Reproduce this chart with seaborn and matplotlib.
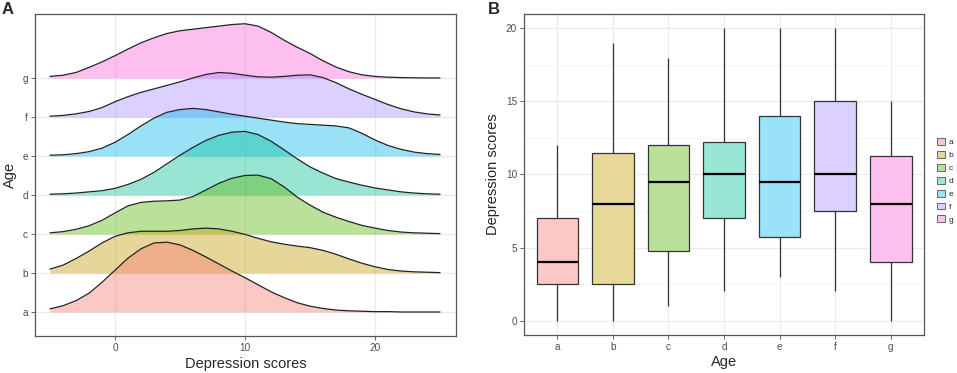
import numpy as np
import pandas as pd
import matplotlib
matplotlib.use("Agg")
import matplotlib.pyplot as plt
from matplotlib.patches import Patch
import seaborn as sns

# ---- data ----
ages = ["a", "b", "c", "d", "e", "f", "g"]
hue_colors = ["#F8766D", "#C49A00", "#53B400", "#00C094", "#00B6EB", "#A58AFF", "#FB61D7"]

# panel A: ridge heights (in row units) at each depression score
score_grid = list(range(-5, 26))
ridge_a = [.08, .16, .29, .48, .76, 1.07, 1.38, 1.62, 1.77, 1.79, 1.72, 1.58, 1.41, 1.23, 1.05, .88,
           .70, .52, .37, .24, .15, .09, .05, .03, .02, .01, .01, 0, 0, 0, 0]
ridge_b = [.10, .20, .37, .56, .77, .94, 1.03, 1.07, 1.07, 1.07, 1.09, 1.13, 1.15, 1.13, 1.07, .99,
           .89, .80, .74, .69, .65, .58, .48, .36, .25, .16, .09, .05, .03, .02, .01]
ridge_c = [.03, .06, .12, .21, .35, .54, .72, .81, .84, .85, .87, .96, 1.13, 1.30, 1.43, 1.50,
           1.51, 1.42, 1.21, .95, .74, .56, .43, .32, .22, .15, .09, .05, .03, .02, .01]
ridge_d = [.02, .03, .05, .08, .11, .17, .27, .40, .58, .80, 1.02, 1.22, 1.40, 1.53, 1.61, 1.63,
           1.55, 1.38, 1.16, .93, .72, .56, .42, .33, .25, .18, .13, .08, .05, .03, .02]
ridge_e = [.02, .03, .06, .11, .20, .35, .55, .77, .97, 1.12, 1.19, 1.22, 1.19, 1.13, 1.07, 1.02,
           .97, .92, .87, .83, .81, .79, .77, .72, .58, .41, .27, .17, .10, .06, .04]
ridge_f = [.02, .04, .08, .14, .24, .39, .52, .63, .72, .81, .90, 1.00, 1.09, 1.14, 1.12, 1.07,
           1.03, 1.02, 1.04, 1.07, 1.08, 1.01, .88, .72, .58, .45, .32, .21, .13, .08, .05]
ridge_g = [.04, .07, .14, .27, .41, .57, .74, .90, 1.03, 1.14, 1.21, 1.25, 1.29, 1.33, 1.37, 1.39,
           1.33, 1.17, .97, .79, .63, .44, .28, .16, .08, .04, .02, .01, .005, 0, 0]
ridges = [ridge_a, ridge_b, ridge_c, ridge_d, ridge_e, ridge_f, ridge_g]

# panel B: box summary per age group
whisker_low = [0, 0, 1, 2, 3, 2, 0]
box_q1 = [2.5, 2.5, 4.75, 7, 5.75, 7.5, 4]
box_median = [4, 8, 9.5, 10, 9.5, 10, 8]
box_q3 = [7, 11.5, 12, 12.25, 14, 15, 11.25]
whisker_high = [12, 19, 18, 20, 20, 20, 15]


def blend(hex_color, alpha=0.4):
    rgb = np.array(matplotlib.colors.to_rgb(hex_color))
    return tuple(alpha * rgb + (1 - alpha) * np.ones(3))


fills = [blend(c) for c in hue_colors]

sns.set_theme(style="white")
plt.rcParams["font.family"] = ["Liberation Sans", "DejaVu Sans"]

fig = plt.figure(figsize=(9.57, 3.73), dpi=100)
ax_a = fig.add_axes([35 / 957, 37 / 373, 421 / 957, 322 / 373])
ax_b = fig.add_axes([524 / 957, 38 / 373, 400 / 957, 321 / 373])

grid_col = "#EBEBEB"
frame_col = "#555555"
tick_col = "#4D4D4D"

# ---- panel A: ridgelines ----
for x in [0, 10, 20]:
    ax_a.axvline(x, color=grid_col, lw=1.0, zorder=0)
for i in range(len(ages)):
    ax_a.axhline(i, color=grid_col, lw=1.0, zorder=0)

for i in range(len(ages) - 1, -1, -1):
    ridge = pd.DataFrame({"score": score_grid, "height": np.array(ridges[i]) + i})
    z = 10 + 2 * (len(ages) - i)
    ax_a.fill_between(ridge["score"], i, ridge["height"], color=hue_colors[i], alpha=0.4,
                      lw=0, zorder=z)
    sns.lineplot(data=ridge, x="score", y="height", ax=ax_a, color="#222222", lw=0.9,
                 zorder=z + 1, solid_joinstyle="round")

ax_a.set_xlim(-6.15, 26.23)
ax_a.set_ylim(-0.615, 7.64)
ax_a.set_xticks([0, 10, 20])
ax_a.set_yticks(range(len(ages)))
ax_a.set_yticklabels(ages)
ax_a.set_xlabel("Depression scores", fontsize=10.5, labelpad=3)
ax_a.set_ylabel("Age", fontsize=10.5, labelpad=4)

# ---- panel B: boxplots ----
box_df = pd.DataFrame({
    "Age": np.repeat(ages, 5),
    "score": np.column_stack([whisker_low, box_q1, box_median, box_q3, whisker_high]).ravel(),
})
for k in range(len(ages)):
    ax_b.axvline(k, color=grid_col, lw=0.9, zorder=0)
for y in np.arange(0, 21, 5):
    ax_b.axhline(y, color=grid_col, lw=0.9, zorder=0)
for y in np.arange(2.5, 20, 5):
    ax_b.axhline(y, color="#F2F2F2", lw=0.5, zorder=0)

sns.boxplot(data=box_df, x="Age", y="score", hue="Age", palette=fills, saturation=1, ax=ax_b,
            whis=(0, 100), width=0.75, showcaps=False, linecolor="#333333", linewidth=0.9,
            medianprops=dict(color="black", lw=1.6), legend=False, zorder=2)

ax_b.set_xlim(-0.6, 6.6)
ax_b.set_ylim(-0.98, 20.98)
ax_b.set_yticks([0, 5, 10, 15, 20])
ax_b.set_xlabel("Age", fontsize=10.5, labelpad=2)
ax_b.set_ylabel("Depression scores", fontsize=10.5, labelpad=4)

for ax in (ax_a, ax_b):
    for s in ax.spines.values():
        s.set_color(frame_col)
        s.set_linewidth(0.9)
    ax.tick_params(axis="both", which="major", length=3, width=0.6, color=tick_col,
                   labelcolor=tick_col, labelsize=7.2, pad=2, bottom=True, left=True)
    ax.grid(False)

handles = [Patch(facecolor=fills[i], edgecolor="#666666", lw=0.7) for i in range(len(ages))]
fig.legend(handles, ages, loc="center left", bbox_to_anchor=(937 / 957, 0.515), frameon=False,
           fontsize=6, handlelength=0.9, handleheight=0.9, handletextpad=0.5, labelspacing=0.55,
           borderpad=0, borderaxespad=0)

fig.text(2 / 957, 1 - 2 / 373, "A", fontsize=12, fontweight="bold", va="top", ha="left")
fig.text(488 / 957, 1 - 2 / 373, "B", fontsize=12, fontweight="bold", va="top", ha="left")

fig.savefig("out.png", dpi=100)
